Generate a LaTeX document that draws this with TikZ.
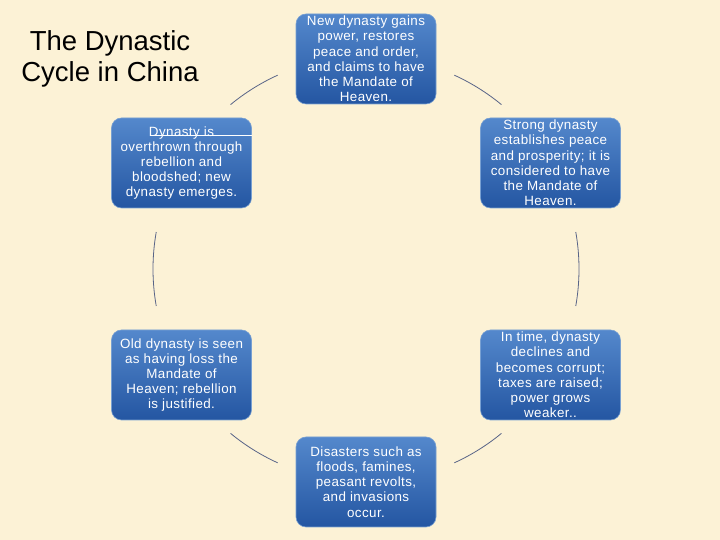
\documentclass[tikz,border=0pt]{standalone}
\usepackage{fontspec}
\setmainfont{Liberation Sans}
\newfontfamily\boxfont[LetterSpace=3]{Liberation Sans}
\usetikzlibrary{calc}
\definecolor{parch}{RGB}{252,242,214}
\definecolor{boxtop}{RGB}{84,136,204}
\definecolor{boxbot}{RGB}{36,86,162}
\definecolor{boxedge}{RGB}{120,160,210}
\definecolor{arcc}{RGB}{88,100,135}
\tikzset{
  stage/.style={rectangle, rounded corners=10pt, minimum width=140pt, minimum height=90pt,
    align=center, inner sep=0pt, top color=boxtop, bottom color=boxbot,
    draw=boxedge, line width=0.6pt, text=white,
    font=\boxfont\fontsize{13.4pt}{15.2pt}\selectfont},
  cyc/.style={draw=arcc, line width=0.8pt},
  titletxt/.style={align=center, font=\fontsize{27.5pt}{31pt}\selectfont, text=black}
}
\begin{document}
\begin{tikzpicture}[x=1pt,y=1pt]
\fill[parch] (0,0) rectangle (720,540);
\useasboundingbox (0,0) rectangle (720,540);

\node[titletxt] (title) at (110,481) {The Dynastic\\Cycle in China};

\node[stage] (top) at (366,481) {New dynasty gains\\power, restores\\peace and order,\\and claims to have\\the Mandate of\\Heaven.};
\node[stage] (ur) at (550.5,377) {Strong dynasty\\establishes peace\\and prosperity; it is\\considered to have\\the Mandate of\\Heaven.};
\node[stage] (lr) at (550.5,165) {In time, dynasty\\declines and\\becomes corrupt;\\taxes are raised;\\power grows\\weaker..};
\node[stage] (bot) at (366,58) {Disasters such as\\floods, famines,\\peasant revolts,\\and invasions\\occur.};
\node[stage] (ll) at (181.5,165) {Old dynasty is seen\\as having loss the\\Mandate of\\Heaven; rebellion\\is justified.};
\node[stage] (ul) at (181.5,377) {Dynasty is\\overthrown through\\rebellion and\\bloodshed; new\\dynasty emerges.};

\draw[white, line width=0.9pt] (150,404.5) -- (ul.east |- 0,404.5);

\coordinate (c) at (366,271);
\coordinate (a1) at ($(c)+(65.5:213)$);
\coordinate (a2) at ($(c)+(10:213)$);
\coordinate (a3) at ($(c)+(-50.5:213)$);
\coordinate (a4) at ($(c)+(245.5:213)$);
\coordinate (a5) at ($(c)+(190:213)$);
\coordinate (a6) at ($(c)+(129.5:213)$);

\draw[cyc] (a1) arc[start angle=65.5, end angle=50.5, radius=213];
\draw[cyc] (a2) arc[start angle=10, end angle=-10, radius=213];
\draw[cyc] (a3) arc[start angle=-50.5, end angle=-65.5, radius=213];
\draw[cyc] (a4) arc[start angle=245.5, end angle=230.5, radius=213];
\draw[cyc] (a5) arc[start angle=190, end angle=170, radius=213];
\draw[cyc] (a6) arc[start angle=129.5, end angle=114.5, radius=213];
\end{tikzpicture}
\end{document}
